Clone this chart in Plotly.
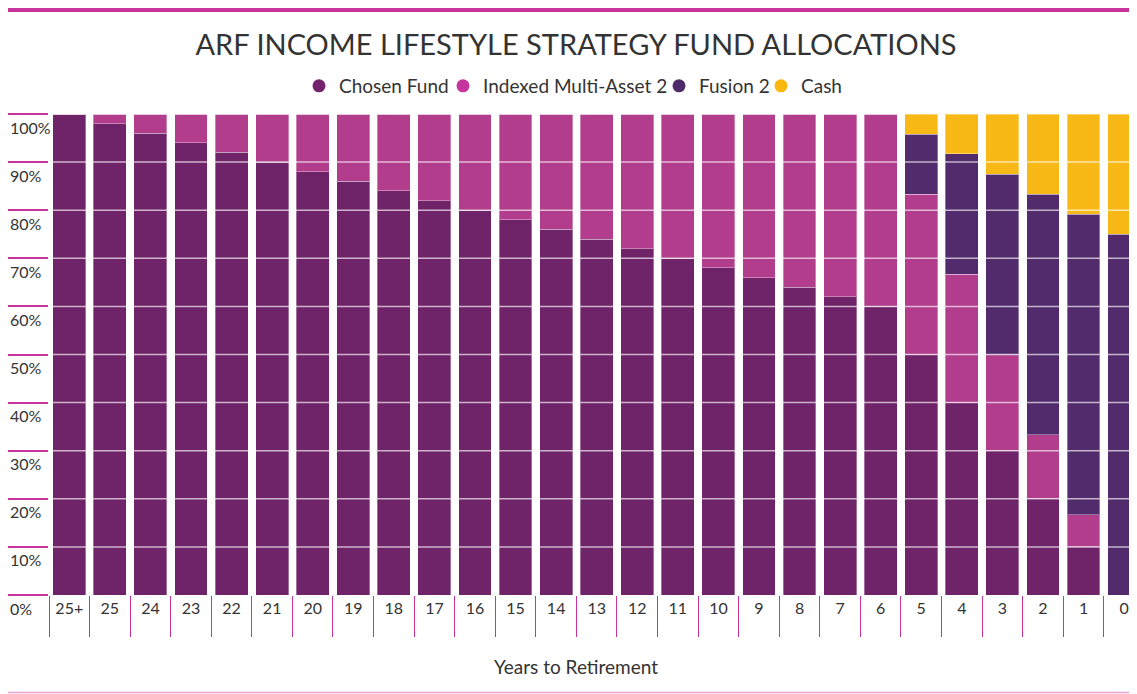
import plotly.graph_objects as go

categories = ["25+", "25", "24", "23", "22", "21", "20", "19", "18", "17", "16", "15", "14",
              "13", "12", "11", "10", "9", "8", "7", "6", "5", "4", "3", "2", "1", "0"]
chosen_fund = [100, 98, 96, 94, 92, 90, 88, 86, 84, 82, 80, 78, 76, 74, 72, 70, 68, 66, 64, 62, 60,
               50, 40, 30, 20, 10, 0]
indexed_multi_asset = [0, 2, 4, 6, 8, 10, 12, 14, 16, 18, 20, 22, 24, 26, 28, 30, 32, 34, 36, 38, 40,
                       33.3, 26.7, 20, 13.3, 6.7, 0]
fusion_2 = [0] * 21 + [12.5, 25, 37.5, 50, 62.5, 75]
cash = [0] * 21 + [4.2, 8.3, 12.5, 16.7, 20.8, 25]

series_names = ["Chosen Fund", "Indexed Multi-Asset 2", "Fusion 2", "Cash"]
series_values = [chosen_fund, indexed_multi_asset, fusion_2, cash]
bar_colors = ["#6F2369", "#B23D8C", "#512B6B", "#F8B916"]
legend_colors = ["#74226B", "#C6359E", "#4F2A6B", "#FBB80F"]

y_ticks = [0, 10, 20, 30, 40, 50, 60, 70, 80, 90, 100]
y_ticktext = [f"{v}%" for v in y_ticks]

# page offset (body margin) -> figure coordinates
OFF = 8
W, H = 1137 - OFF, 694 - OFF
ML = 49 - OFF
MR = 0
MT = 114 - OFF
MB = H - (595 - OFF)
PW, PH = W - ML - MR, H - MT - MB
CAT_PX = 40.57  # category pitch in the reference (plot is cut at the right edge)

FONT = "Lato"
TXT = "#333333"
MAGENTA = "#C8349B"


def fx(page_x):
    return (page_x - OFF - ML) / PW


def fy(page_y):
    return (H - MB - (page_y - OFF)) / PH


fig = go.Figure()
for name, vals, col in zip(series_names, series_values, bar_colors):
    fig.add_trace(go.Bar(x=categories, y=vals, name=name, marker_color=col,
                         marker_line=dict(color="rgba(255,255,255,0.35)", width=1),
                         showlegend=False, hoverinfo="x+y+name"))

legend_left_px = [299, 443, 659, 761]
legend_ids = ["legend", "legend2", "legend3", "legend4"]
for name, col, lid in zip(series_names, legend_colors, legend_ids):
    fig.add_trace(go.Scatter(x=[None], y=[None], mode="markers", name=name, legend=lid,
                             marker=dict(color=col, size=13, symbol="circle")))

shapes = []
shapes.append(dict(type="line", xref="paper", yref="paper",
                   x0=fx(8), x1=fx(1140), y0=fy(9.5), y1=fy(9.5),
                   line=dict(color=MAGENTA, width=5)))
shapes.append(dict(type="line", xref="paper", yref="paper",
                   x0=fx(8), x1=fx(1140), y0=fy(692.5), y1=fy(692.5),
                   line=dict(color="#E8A3D0", width=1.5)))
for v in y_ticks[1:-1]:
    shapes.append(dict(type="line", xref="paper", yref="y", x0=0, x1=1, y0=v, y1=v,
                       layer="above", line=dict(color="rgba(255,255,255,0.65)", width=1.5)))

annotations = []
for v, t in zip(y_ticks, y_ticktext):
    annotations.append(dict(text=t, xref="paper", yref="y", x=fx(8), y=v,
                            xanchor="left", yanchor="middle", yshift=-13, showarrow=False,
                            font=dict(family=FONT, size=16, color=TXT)))
annotations.append(dict(text="Years to Retirement", xref="paper", yref="paper",
                        x=fx(576), y=fy(666), xanchor="center", yanchor="middle",
                        showarrow=False, font=dict(family=FONT, size=19, color=TXT)))

legend_common = dict(orientation="h", xref="container", xanchor="left",
                     yref="container", y=1 - (86 - OFF) / H, yanchor="middle",
                     font=dict(family=FONT, size=19, color=TXT), itemclick=False,
                     itemdoubleclick=False, bgcolor="rgba(0,0,0,0)", borderwidth=0)
legend_layout = {}
for lid, lx in zip(legend_ids, legend_left_px):
    legend_layout[lid] = dict(legend_common, x=(lx - OFF) / W)

fig.update_layout(
    width=W, height=H,
    margin=dict(l=ML, r=MR, t=MT, b=MB, pad=0),
    barmode="stack", bargap=0.19,
    plot_bgcolor="white", paper_bgcolor="white",
    font=dict(family=FONT, color=TXT),
    title=dict(text="ARF INCOME LIFESTYLE STRATEGY FUND ALLOCATIONS",
               x=(576 - OFF) / W, xanchor="center", xref="container",
               y=1 - (45 - OFF) / H, yanchor="middle", yref="container",
               font=dict(family=FONT, size=29, color=TXT)),
    xaxis=dict(type="category", categoryorder="array", categoryarray=categories,
               range=[-0.5, -0.5 + PW / CAT_PX], showgrid=False, zeroline=False,
               showline=False, ticks="outside", tickson="boundaries", ticklen=41,
               tickcolor=MAGENTA, tickwidth=1, ticklabelstandoff=2,
               tickfont=dict(family=FONT, size=16, color=TXT), fixedrange=True),
    yaxis=dict(range=[0, 100], tickvals=y_ticks, showticklabels=False, showgrid=False,
               zeroline=False, showline=False, ticks="outside", ticklen=41,
               tickcolor=MAGENTA, tickwidth=1.5, fixedrange=True),
    shapes=shapes, annotations=annotations,
    **legend_layout,
)

fig.write_html("out.html")
